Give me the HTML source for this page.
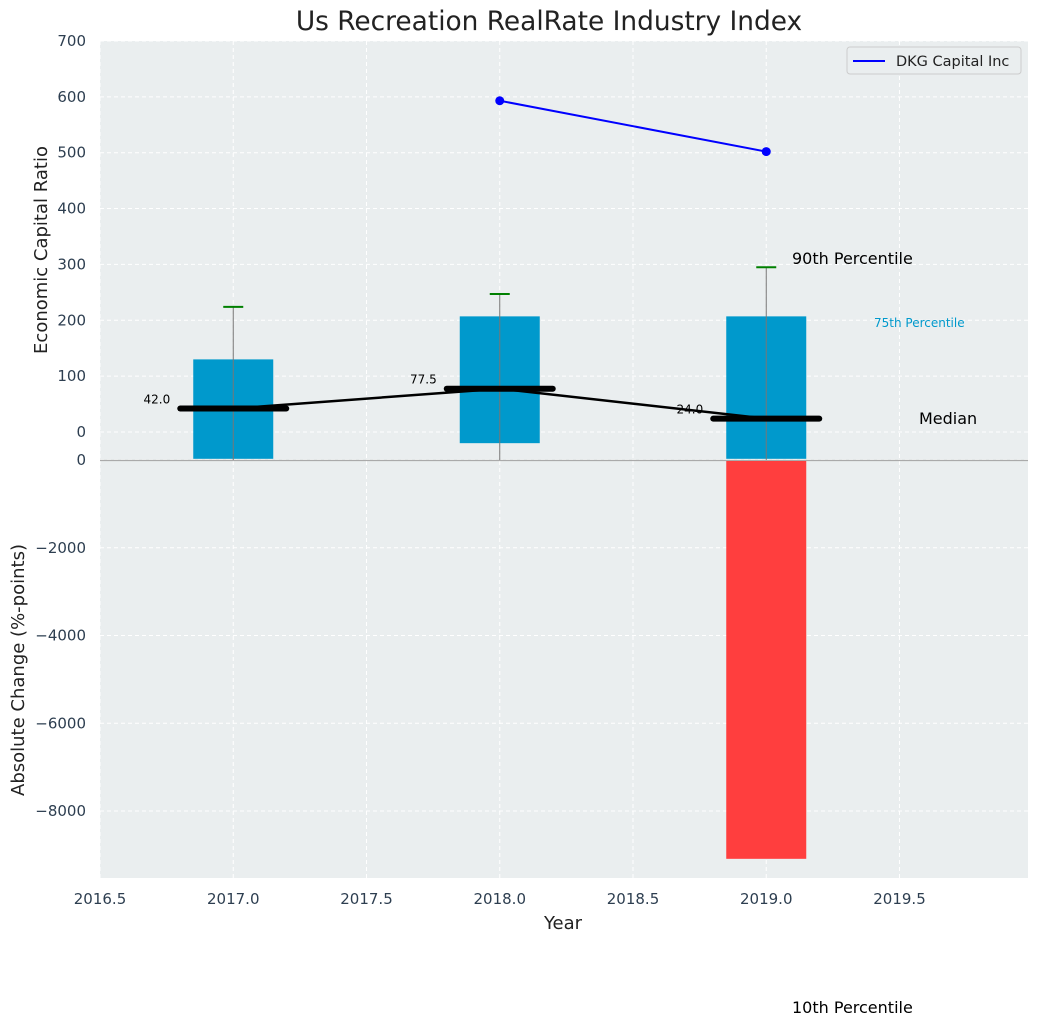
<!DOCTYPE html>
<html><head><meta charset="utf-8"><style>
body{margin:0;background:#fff;font-family:"Liberation Sans","DejaVu Sans",sans-serif}
svg text{font-family:"DejaVu Sans","Liberation Sans",sans-serif}
</style></head><body>
<svg id="c" width="1039" height="1027"></svg>
<script>
const years=[2017,2018,2019];
const p25=[-48,-20,-48];
const p75=[130,207,207];
const p90=[224,247,295];
const medians=[42,77.5,24];
const dkgYears=[2018,2019];
const dkgValues=[593,502];
const changeYears=[2019];
const changeValues=[-9090];
const xTicks=[2016.5,2017,2017.5,2018,2018.5,2019,2019.5];
const topTicks=[0,100,200,300,400,500,600,700];
const botTicks=[0,-2000,-4000,-6000,-8000];

const NS="http://www.w3.org/2000/svg";
const svg=document.getElementById('c');
const L=100,R=1028,T1=41,B1=460,B2=878;
const X=v=>L+(v-2016.5)*266.5;
const Y1=v=>432-v*0.5586;
const Y2=v=>460-v*(351/8000);
function el(t,a,txt){const e=document.createElementNS(NS,t);for(const k in a)e.setAttribute(k,a[k]);if(txt!==undefined)e.textContent=txt;svg.appendChild(e);return e;}

let bg=el('rect',{x:L,y:T1,width:R-L,height:B2-T1,fill:'#eaeeef'});


xTicks.forEach(v=>{let g=el('line',{x1:X(v),x2:X(v),y1:T1,y2:B2,stroke:'#fff','stroke-dasharray':'4,3','stroke-width':1});

let t=el('text',{x:X(v),y:904,'text-anchor':'middle','font-size':15,fill:'#2d3e50'},v.toFixed(1));
});
topTicks.forEach(v=>{let g=el('line',{x1:L,x2:R,y1:Y1(v),y2:Y1(v),stroke:'#fff','stroke-dasharray':'4,3'});

let t=el('text',{x:86,y:Y1(v)+5,'text-anchor':'end','font-size':15,fill:'#2d3e50'},v);
});
botTicks.forEach(v=>{let g=el('line',{x1:L,x2:R,y1:Y2(v),y2:Y2(v),stroke:'#fff','stroke-dasharray':'4,3'});

let t=el('text',{x:86,y:Y2(v)+5,'text-anchor':'end','font-size':15,fill:'#2d3e50'},v===0?'0':'\u2212'+Math.abs(v));
});
let sep=el('line',{x1:L,x2:R,y1:460.5,y2:460.5,stroke:'#aaa','stroke-width':1.2});


years.forEach((y,i)=>{
 let b=el('rect',{x:X(y)-40,y:Y1(p75[i]),width:80,height:Y1(p25[i])-Y1(p75[i]),fill:'#0099cc'});
 
 let w=el('line',{x1:X(y),x2:X(y),y1:460,y2:Y1(p90[i]),stroke:'#777','stroke-width':1});
 
 let c=el('line',{x1:X(y)-10,x2:X(y)+10,y1:Y1(p90[i]),y2:Y1(p90[i]),stroke:'green','stroke-width':2});
 
});
let mp=years.map((y,i)=>X(y)+','+Y1(medians[i])).join(' ');
let ml=el('polyline',{points:mp,fill:'none',stroke:'#000','stroke-width':2.5});

years.forEach((y,i)=>{
 let m=el('line',{x1:X(y)-53,x2:X(y)+53,y1:Y1(medians[i]),y2:Y1(medians[i]),stroke:'#000','stroke-width':6,'stroke-linecap':'round'});
 
 let t=el('text',{x:X(y)-63,y:Y1(medians[i])-5,'text-anchor':'end','font-size':12,fill:'#000'},medians[i].toFixed(1));
 
});
let dl=el('polyline',{points:dkgYears.map((y,i)=>X(y)+','+Y1(dkgValues[i])).join(' '),fill:'none',stroke:'blue','stroke-width':2});

dkgYears.forEach((y,i)=>{let p=el('circle',{cx:X(y),cy:Y1(dkgValues[i]),r:4.5,fill:'blue'});
});
changeYears.forEach((y,i)=>{let b=el('rect',{x:X(y)-40,y:461,width:80,height:Y2(changeValues[i])-461,fill:'#ff3e3e'});
});

function txt(x,y,s,fs,fill,name,anchor){let t=el('text',{x:x,y:y,'font-size':fs,fill:fill,'text-anchor':anchor||'start'},s);
return t;}
txt(549,30,'Us Recreation RealRate Industry Index',26.4,'#222','chart-title','middle');
txt(563,929,'Year',18,'#222','x-axis-title','middle');
let yt1=txt(47,250,'Economic Capital Ratio',18,'#222','top-y-axis-title','middle');yt1.setAttribute('transform','rotate(-90 47 250)');
let yt2=txt(24,670,'Absolute Change (%-points)',18,'#222','bottom-y-axis-title','middle');yt2.setAttribute('transform','rotate(-90 24 670)');
txt(792,264,'90th Percentile',16,'#000','p90-annotation');
txt(874,327,'75th Percentile',12,'#0099cc','p75-annotation');
txt(919,424,'Median',16,'#000','median-annotation');
txt(792,1013,'10th Percentile',16,'#000','p10-annotation');
let lg=el('rect',{x:847,y:47,width:174,height:27,fill:'#eaeeef',stroke:'#ccc',rx:3});

let ll=el('line',{x1:853,x2:885,y1:61,y2:61,stroke:'blue','stroke-width':2});

txt(896,66,'DKG Capital Inc',14.5,'#222','legend-entry');
</script></body></html>
